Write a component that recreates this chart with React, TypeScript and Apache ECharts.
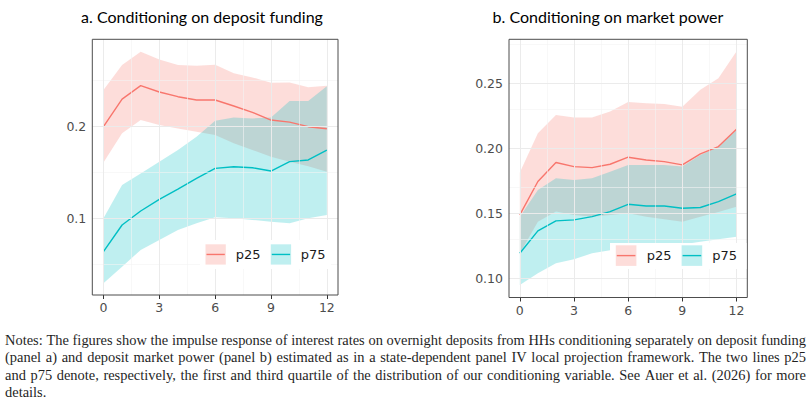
import React, { useEffect, useRef } from "react";
import * as echarts from "echarts";

// ---------- data ----------
const horizons = [0, 1, 2, 3, 4, 5, 6, 7, 8, 9, 10, 11, 12];

// panel a: conditioning on deposit funding
const aP25 = [0.200, 0.230, 0.2446, 0.2377, 0.2326, 0.229, 0.229, 0.2225, 0.2156, 0.2072, 0.205, 0.200, 0.1978];
const aP25Hi = [0.240, 0.267, 0.2815, 0.273, 0.267, 0.2663, 0.2674, 0.258, 0.2536, 0.2478, 0.248, 0.2428, 0.2446];
const aP25Lo = [0.161, 0.1928, 0.2072, 0.2018, 0.198, 0.1946, 0.191, 0.182, 0.1746, 0.1674, 0.162, 0.157, 0.151];
const aP75 = [0.0641, 0.0931, 0.1083, 0.121, 0.1322, 0.1438, 0.1547, 0.1565, 0.1554, 0.1518, 0.162, 0.1638, 0.1746];
const aP75Hi = [0.1004, 0.1366, 0.149, 0.162, 0.1746, 0.189, 0.2065, 0.210, 0.209, 0.210, 0.228, 0.228, 0.244];
const aP75Lo = [0.0297, 0.0478, 0.066, 0.0768, 0.0877, 0.095, 0.1014, 0.1004, 0.0986, 0.0967, 0.095, 0.1004, 0.104];

// panel b: conditioning on market power
const bP25 = [0.1487, 0.1744, 0.189, 0.1859, 0.1851, 0.1877, 0.1931, 0.191, 0.1897, 0.1872, 0.1956, 0.2013, 0.2146];
const bP25Hi = [0.1813, 0.2115, 0.2256, 0.2236, 0.2236, 0.2282, 0.2356, 0.2346, 0.2341, 0.232, 0.2449, 0.2538, 0.2744];
const bP25Lo = [0.119, 0.1435, 0.1513, 0.1487, 0.1474, 0.1487, 0.150, 0.1474, 0.1454, 0.1435, 0.1474, 0.151, 0.155];
const bP75 = [0.1192, 0.1364, 0.1441, 0.1449, 0.1474, 0.1513, 0.1569, 0.1556, 0.1556, 0.1538, 0.1544, 0.159, 0.1649];
const bP75Hi = [0.1474, 0.1679, 0.1769, 0.1756, 0.1769, 0.182, 0.1872, 0.1872, 0.1872, 0.1859, 0.1948, 0.2012, 0.2141];
const bP75Lo = [0.0949, 0.1038, 0.1115, 0.1146, 0.1192, 0.1215, 0.1256, 0.127, 0.1265, 0.126, 0.128, 0.130, 0.132];

// ticks / grid
const xTicks = [0, 3, 6, 9, 12];
const xMinor = [1.5, 4.5, 7.5, 10.5];
const aYTicks = [0.1, 0.2];
const aYMinor = [0.05, 0.15, 0.25];
const bYTicks = [0.1, 0.15, 0.2, 0.25];
const bYMinor = [0.125, 0.175, 0.225, 0.275];

const seriesNames = ["p25", "p75"];
const titles = ["a. Conditioning on deposit funding", "b. Conditioning on market power"];
const noteLines = [
  "Notes: The figures show the impulse response of interest rates on overnight deposits from HHs conditioning separately on deposit funding",
  "(panel a) and deposit market power (panel b) estimated as in a state-dependent panel IV local projection framework. The two lines p25",
  "and p75 denote, respectively, the first and third quartile of the distribution of our conditioning variable. See Auer et al. (2026) for more",
  "details.",
];

const C25 = "#F8766D";
const C75 = "#00BFC4";
const F25 = "rgba(248,118,109,0.25)";
const F75 = "rgba(0,191,196,0.25)";

function pairs(ys: number[]) {
  return horizons.map((h, i) => [h, ys[i]]);
}

function bandSeries(g: number, lo: number[], hi: number[], fill: string) {
  return {
    type: "custom",
    xAxisIndex: g,
    yAxisIndex: g,
    silent: true,
    z: 2,
    data: horizons.map((h, i) => [h, lo[i], hi[i]]),
    encode: { x: 0, y: [1, 2] },
    renderItem: (params: any, api: any) => {
      if (params.dataIndex !== 0) return null;
      const upper = horizons.map((h, i) => api.coord([h, hi[i]]));
      const lower = horizons.map((h, i) => api.coord([h, lo[i]])).reverse();
      return {
        type: "polygon",
        shape: { points: upper.concat(lower) },
        style: { fill },
      };
    },
  };
}

function lineSeries(g: number, ys: number[], color: string, name: string) {
  return {
    type: "line",
    name,
    xAxisIndex: g,
    yAxisIndex: g,
    data: pairs(ys),
    symbol: "none",
    lineStyle: { color, width: 1.4 },
    silent: true,
    z: 3,
  };
}

const major = { color: "#EBEBEB", width: 1, type: "solid" };
const minor = { color: "#F3F3F3", width: 0.6, type: "solid" };

function gridSeries(g: number, yT: number[], yM: number[]) {
  return {
    type: "line",
    xAxisIndex: g,
    yAxisIndex: g,
    data: [],
    silent: true,
    z: 1,
    markLine: {
      silent: true,
      symbol: ["none", "none"],
      label: { show: false },
      lineStyle: { type: "solid" },
      animation: false,
      data: [
        ...xMinor.map((v) => ({ xAxis: v, lineStyle: minor })),
        ...yM.map((v) => ({ yAxis: v, lineStyle: minor })),
        ...xTicks.map((v) => ({ xAxis: v, lineStyle: major })),
        ...yT.map((v) => ({ yAxis: v, lineStyle: major })),
      ],
    },
  };
}

function xAxisCfg(g: number) {
  return {
    type: "value",
    gridIndex: g,
    min: -0.6,
    max: 12.6,
    axisLine: { show: false },
    splitLine: { show: false },
    axisTick: { show: true, length: 4, customValues: xTicks, lineStyle: { color: "#333", width: 1 } },
    axisLabel: {
      customValues: xTicks,
      margin: 6,
      fontSize: 12.5,
      color: "#4D4D4D",
      fontFamily: "DejaVu Sans",
    },
  };
}

function yAxisCfg(g: number, min: number, max: number, ticks: number[], digits: number) {
  return {
    type: "value",
    gridIndex: g,
    min,
    max,
    axisLine: { show: false },
    splitLine: { show: false },
    axisTick: { show: true, length: 4, customValues: ticks, lineStyle: { color: "#333", width: 1 } },
    axisLabel: {
      customValues: ticks,
      margin: 6,
      fontSize: 12.5,
      color: "#4D4D4D",
      fontFamily: "DejaVu Sans",
      formatter: (v: number) => v.toFixed(digits),
    },
  };
}

function legendGraphic(bg: number[], keyX: number[], keyY: number, keyS: number, textX: number[]) {
  const cy = keyY + keyS / 2;
  const colors = [C25, C75];
  const fills = [F25, F75];
  const els: any[] = [
    { type: "rect", shape: { x: bg[0], y: bg[1], width: bg[2], height: bg[3] }, style: { fill: "#FFFFFF" }, z: 50 },
  ];
  seriesNames.forEach((name, i) => {
    els.push({
      type: "rect",
      shape: { x: keyX[i], y: keyY, width: keyS, height: keyS },
      style: { fill: fills[i] },
      z: 51,
    });
    els.push({
      type: "line",
      shape: { x1: keyX[i] + 1, y1: cy, x2: keyX[i] + keyS - 1, y2: cy },
      style: { stroke: colors[i], lineWidth: 1.4 },
      z: 52,
    });
    els.push({
      type: "text",
      x: textX[i],
      y: cy,
      style: {
        text: name,
        fontSize: 13,
        fontFamily: "DejaVu Sans",
        fill: "#1A1A1A",
        verticalAlign: "middle",
        align: "left",
      },
      z: 52,
    });
  });
  return els;
}

// justified paragraph: each line spread between x0 and x1 (last line left aligned)
function noteGraphic(x0: number, x1: number, ys: number[], fontSize: number, family: string) {
  const ctx = document.createElement("canvas").getContext("2d") as CanvasRenderingContext2D;
  ctx.font = `${fontSize}px "${family}"`;
  const els: any[] = [];
  noteLines.forEach((line, li) => {
    const words = line.split(" ");
    const widths = words.map((w) => ctx.measureText(w).width);
    const total = widths.reduce((a, b) => a + b, 0);
    const last = li === noteLines.length - 1;
    const gap = last || words.length < 2 ? ctx.measureText(" ").width : (x1 - x0 - total) / (words.length - 1);
    let x = x0;
    words.forEach((w, wi) => {
      els.push({
        type: "text",
        x,
        y: ys[li],
        style: { text: w, fontSize, fontFamily: family, fill: "#1F1F1F", align: "left", verticalAlign: "middle" },
      });
      x += widths[wi] + gap;
    });
  });
  return els;
}

export default function App() {
  const ref = useRef<HTMLDivElement>(null);
  useEffect(() => {
    if (!ref.current) return;
    const chart = echarts.init(ref.current, undefined, { renderer: "svg" });
    const graphic: any[] = [
      ...titles.map((t, i) => ({
        type: "text",
        x: [202, 608][i],
        y: 16,
        style: {
          text: t,
          fontSize: 16,
          fontFamily: "Lato",
          fill: "#000000",
          align: "center",
          verticalAlign: "middle",
        },
      })),
      ...legendGraphic([200, 240, 131, 29], [205.5, 270.8], 244.3, 20.3, [235.7, 300.7]),
      ...legendGraphic([610, 243, 136.5, 26], [615.8, 681.6], 245.3, 20.6, [646.7, 712.3]),
      ...noteGraphic(5, 806, [340, 357.4, 374.8, 392], 14.45, "Liberation Serif"),
    ];

    chart.setOption({
      animation: false,
      textStyle: { fontFamily: "DejaVu Sans" },
      grid: [
        { left: 92.3, top: 39.3, width: 245.7, height: 255.7, show: true, borderColor: "#4D4D4D", borderWidth: 1, backgroundColor: "transparent", z: 10 },
        { left: 509, top: 39.3, width: 238.3, height: 258.2, show: true, borderColor: "#4D4D4D", borderWidth: 1, backgroundColor: "transparent", z: 10 },
      ],
      xAxis: [xAxisCfg(0), xAxisCfg(1)],
      yAxis: [yAxisCfg(0, 0.017, 0.295, aYTicks, 1), yAxisCfg(1, 0.0852, 0.2838, bYTicks, 2)],
      series: [
        gridSeries(0, aYTicks, aYMinor),
        gridSeries(1, bYTicks, bYMinor),
        bandSeries(0, aP25Lo, aP25Hi, F25),
        bandSeries(0, aP75Lo, aP75Hi, F75),
        bandSeries(1, bP25Lo, bP25Hi, F25),
        bandSeries(1, bP75Lo, bP75Hi, F75),
        lineSeries(0, aP25, C25, "p25"),
        lineSeries(0, aP75, C75, "p75"),
        lineSeries(1, bP25, C25, "p25"),
        lineSeries(1, bP75, C75, "p75"),
      ],
      graphic,
    });
    return () => chart.dispose();
  }, []);
  return (
    <div
      ref={ref}
      style={{ position: "absolute", left: 0, top: 0, width: 811, height: 404, background: "#FFFFFF" }}
    />
  );
}
